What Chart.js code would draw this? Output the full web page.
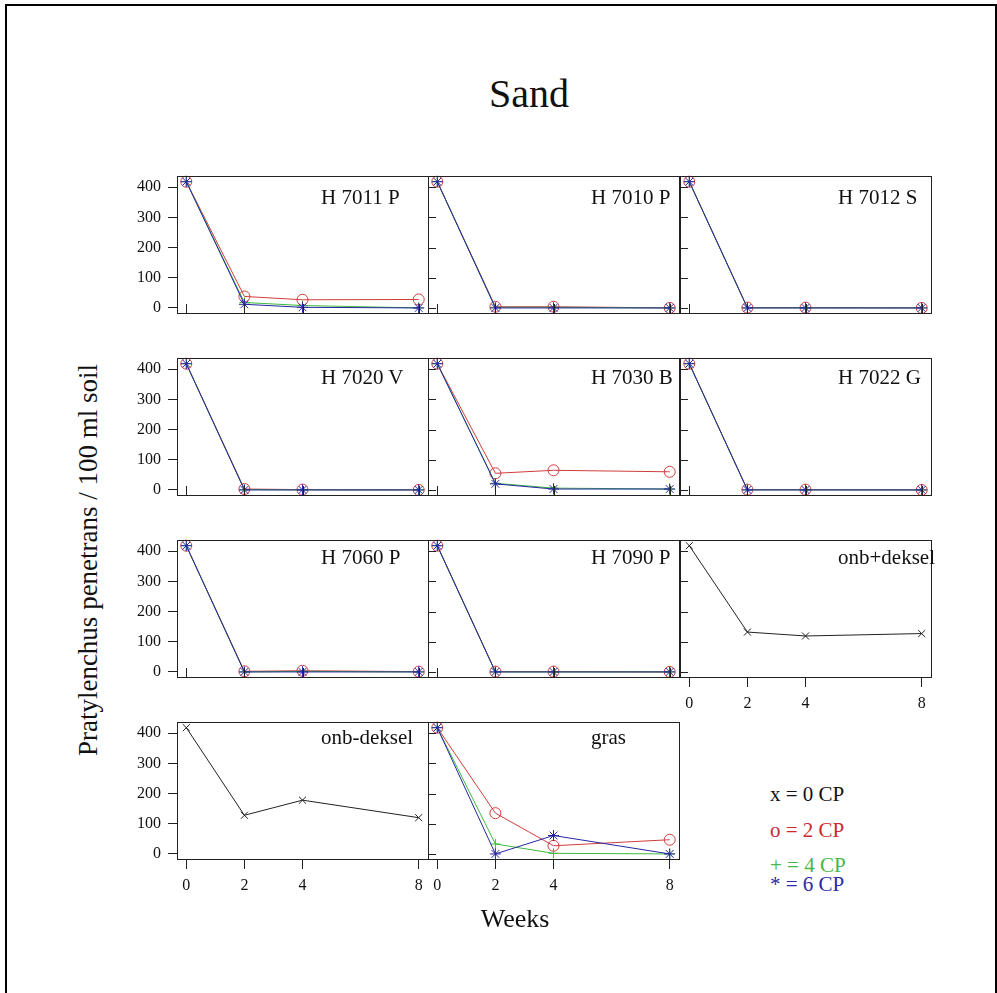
<!DOCTYPE html>
<html>
<head>
<meta charset="utf-8">
<script src="https://cdn.jsdelivr.net/npm/chart.js@4.4.0/dist/chart.umd.min.js"></script>
<style>
  body { margin: 0; background: #fff; width: 997px; height: 993px; overflow: hidden; position: relative;
         font-family: "Liberation Serif", "Times New Roman", serif; }
  #frame { position: absolute; left: 5px; top: 4px; width: 988px; height: 1000px; border: 2px solid #000; }
  canvas { position: absolute; }
  .txt { position: absolute; white-space: nowrap; line-height: 1; color: #111; }
</style>
</head>
<body>
<div id="frame"></div>
<script>
const weeks = [0, 2, 4, 8];
const yTicks = [0, 100, 200, 300, 400];
const panelNames = ['H 7011 P', 'H 7010 P', 'H 7012 S', 'H 7020 V', 'H 7030 B', 'H 7022 G',
                    'H 7060 P', 'H 7090 P', 'onb+deksel', 'onb-deksel', 'gras'];

// one entry per panel, null where the series is not in that panel
const cp0 = [null, null, null, null, null, null, null, null,
             [418, 132, 119, 127], [418, 128, 178, 120], null];
const cp2 = [[418, 38, 27, 28], [418, 4, 4, 0], [418, 1, 1, 0], [418, 3, 1, 0], [418, 55, 65, 60], [418, 1, 1, 0],
             [418, 2, 4, 1], [418, 1, 1, 0], null, null, [418, 135, 27, 47]];
const cp4 = [[418, 18, 8, 0], [418, 2, 2, 0], [418, 0, 0, 0], [418, 1, 0, 0], [418, 22, 6, 3], [418, 0, 0, 0],
             [418, 0, 2, 0], [418, 0, 0, 0], null, null, [418, 33, 2, 0]];
const cp6 = [[418, 12, 2, 0], [418, 0, 0, 0], [418, 0, 0, 0], [418, 0, 0, 0], [418, 20, 3, 3], [418, 0, 0, 0],
             [418, 0, 0, 0], [418, 0, 0, 0], null, null, [418, 0, 61, 0]];

const legendLabels = ['x = 0 CP', 'o = 2 CP', '+ = 4 CP', '* = 6 CP'];

// layout
const colLeft = [177, 428, 680];
const rowTop = [176, 358, 540, 722];
const boxW = 251, boxH = 137;
const cells = [[0,0],[0,1],[0,2],[1,0],[1,1],[1,2],[2,0],[2,1],[2,2],[3,0],[3,1]];
const labelLeft = [321, 591, 838];
const labelBase = [205, 385, 565, 745];
const PADL = 60, PADT = 10, PADR = 10, PADB = 50;

const series = [
  { values: cp0, color: '#222222', style: 'crossRot', r: 5, order: 4 },
  { values: cp2, color: '#d23c3c', style: 'circle', r: 5.5, order: 3 },
  { values: cp4, color: '#3cbb3c', style: 'cross', r: 5, order: 2 },
  { values: cp6, color: '#2626a2', style: 'star', r: 5.5, order: 1 }
];
const legendColors = ['#111111', '#cc2a2a', '#44b944', '#2a2aa6'];

function addText(text, x, base, size, color, align) {
  const d = document.createElement('div');
  d.className = 'txt';
  d.textContent = text;
  d.style.fontSize = size + 'px';
  d.style.color = color || '#111';
  d.style.top = (base - 0.84 * size) + 'px';
  d.style.left = x + 'px';
  if (align === 'center') d.style.transform = 'translateX(-50%)';
  document.body.appendChild(d);
  return d;
}

const panelFrame = {
  id: 'panelFrame',
  afterDatasetsDraw(chart, args, opts) {
    const { ctx, chartArea: a, scales } = chart;
    ctx.save();
    ctx.strokeStyle = '#222';
    ctx.lineWidth = 1;
    ctx.strokeRect(a.left + 0.5, a.top + 0.5, a.width, a.height);
    ctx.beginPath();
    if (!opts.yLabels) {
      yTicks.forEach(v => {
        const y = Math.round(scales.y.getPixelForValue(v)) + 0.5;
        ctx.moveTo(a.left, y);
        ctx.lineTo(a.left + 8, y);
      });
    }
    if (!opts.xLabels) {
      weeks.forEach(w => {
        const x = Math.round(scales.x.getPixelForValue(w)) + 0.5;
        ctx.moveTo(x, a.bottom);
        ctx.lineTo(x, a.bottom - 9);
      });
    }
    ctx.stroke();
    ctx.restore();
  }
};

cells.forEach(([row, col], i) => {
  const xLabels = (i >= 8);
  const yLabels = (col === 0);
  const canvas = document.createElement('canvas');
  canvas.width = boxW + PADL + PADR;
  canvas.height = boxH + PADT + PADB;
  canvas.style.left = (colLeft[col] - PADL) + 'px';
  canvas.style.top = (rowTop[row] - PADT) + 'px';
  document.body.appendChild(canvas);

  const datasets = [];
  series.forEach(s => {
    const vals = s.values[i];
    if (!vals) return;
    datasets.push({
      data: weeks.map((w, k) => ({ x: w, y: vals[k] })),
      borderColor: s.color,
      borderWidth: 1,
      pointStyle: s.style,
      pointRadius: s.r,
      pointBorderColor: s.color,
      pointBackgroundColor: 'rgba(0,0,0,0)',
      pointBorderWidth: 1,
      order: s.order,
      clip: false,
      tension: 0
    });
  });

  const tickFont = { family: 'Liberation Serif', size: 16 };

  new Chart(canvas.getContext('2d'), {
    type: 'line',
    data: { datasets },
    options: {
      responsive: false,
      animation: false,
      devicePixelRatio: 1,
      layout: { padding: { top: PADT, right: PADR, left: 0, bottom: 0 } },
      plugins: {
        legend: { display: false },
        tooltip: { enabled: false },
        panelFrame: { xLabels, yLabels }
      },
      scales: {
        x: {
          type: 'linear', min: -0.32, max: 8.32,
          afterBuildTicks: s => { s.ticks = weeks.map(v => ({ value: v })); },
          afterFit: s => { s.height = PADB; s.paddingLeft = 0; s.paddingRight = 0; },
          ticks: { display: xLabels, font: tickFont, color: '#111', padding: 7, maxRotation: 0, autoSkip: false },
          grid: { display: xLabels, drawOnChartArea: false, drawTicks: true, tickLength: 10, color: '#222' },
          border: { display: false }
        },
        y: {
          min: -16.8, max: 436.8,
          afterBuildTicks: s => { s.ticks = yTicks.map(v => ({ value: v })); },
          afterFit: s => { s.width = PADL; s.paddingTop = 0; s.paddingBottom = 0; },
          ticks: { display: yLabels, font: tickFont, color: '#111', padding: 7 },
          grid: { display: yLabels, drawOnChartArea: false, drawTicks: true, tickLength: 9, color: '#222' },
          border: { display: false }
        }
      }
    },
    plugins: [panelFrame]
  });

  addText(panelNames[i], labelLeft[col], labelBase[row], 21, '#111');
});

// titles
addText('Sand', 529, 108, 40, '#111', 'center');
addText('Weeks', 515, 928, 26, '#111', 'center');
const yt = document.createElement('div');
yt.className = 'txt';
yt.textContent = 'Pratylenchus penetrans / 100 ml soil';
yt.style.fontSize = '27px';
yt.style.left = '88px';
yt.style.top = '560px';
yt.style.transform = 'translate(-50%, -50%) rotate(-90deg)';
document.body.appendChild(yt);

// legend
const legendBase = [802, 838, 873, 892];
legendLabels.forEach((t, k) => addText(t, 770, legendBase[k], 21, legendColors[k]));
</script>
</body>
</html>
